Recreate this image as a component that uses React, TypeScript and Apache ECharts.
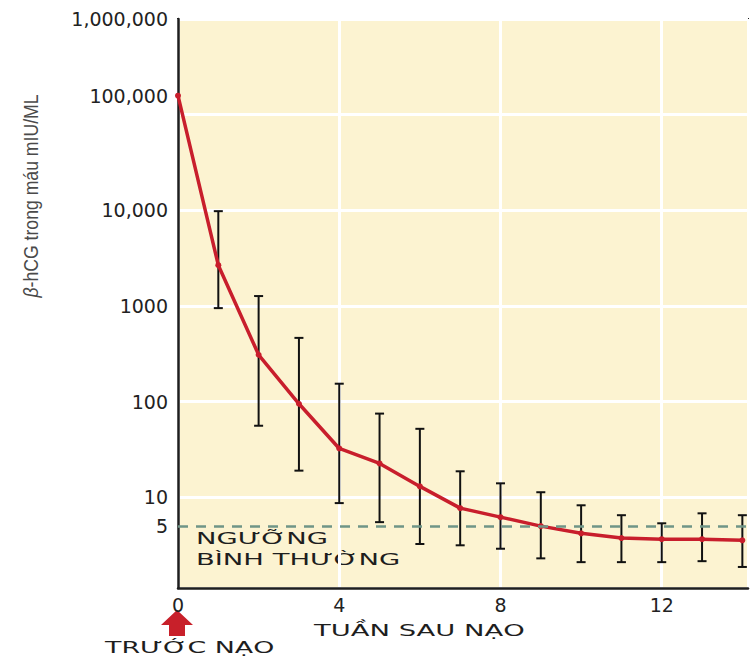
import React, { useEffect, useRef } from 'react';
import * as echarts from 'echarts';

// ---- data ----
const weeks = [0, 1, 2, 3, 4, 5, 6, 7, 8, 9, 10, 11, 12, 13, 14];
const hcgMean = [158000, 2670, 309, 95, 32.4, 22.6, 13, 7.7, 6.2, 5.0, 4.2, 3.75, 3.65, 3.65, 3.55];
const errHigh = [null, 9800, 1270, 464, 154, 75, 52, 18.7, 14, 11.3, 8.25, 6.5, 5.35, 6.8, 6.5];
const errLow = [null, 950, 56, 19, 8.7, 5.5, 3.25, 3.15, 2.9, 2.3, 2.1, 2.1, 2.1, 2.15, 1.87];
const xTickValues = [0, 4, 8, 12];
const yTickValues = [10, 100, 1000, 10000, 100000, 1000000];
const yTickTexts = ['10', '100', '1000', '10,000', '100,000', '1,000,000'];
const thresholdValue = 5;
const thresholdLabel = '5';

const yAxisTitle = '{b|β}-hCG trong máu mIU/ML';
const xAxisTitle = 'TUẦN SAU NẠO';
const thresholdText1 = 'NGƯỠNG';
const thresholdText2 = 'BÌNH THƯỜNG';
const beforeText = 'TRƯỚC NẠO';

const RED = '#c81e2c';
const INK = '#1e1e1e';
const NUM_FONT = 'DejaVu Sans';

export default function App() {
  const ref = useRef<HTMLDivElement>(null);

  useEffect(() => {
    document.body.style.margin = '0';
    const chart = echarts.init(ref.current!, null, { renderer: 'svg' });

    const errData = weeks
      .map((w, i) => [w, errLow[i], errHigh[i]])
      .filter((d) => d[1] != null && d[2] != null);

    const annFont = { fontFamily: NUM_FONT, fontSize: 16.5, fill: '#1e1e1e' };
    const stretch = 1.66;

    chart.setOption({
      animation: false,
      backgroundColor: '#ffffff',
      grid: {
        left: 178,
        top: 17,
        right: -4,
        bottom: 69,
        show: true,
        backgroundColor: '#fcf3d1',
        borderColor: INK,
        borderWidth: 2,
      },
      xAxis: {
        type: 'value',
        min: 0,
        max: 14.14,
        interval: 4,
        axisLine: { show: true, onZero: false, lineStyle: { color: INK, width: 2.5 } },
        axisTick: { show: false },
        splitLine: { show: true, lineStyle: { color: '#ffffff', width: 3 } },
        axisLabel: {
          fontFamily: NUM_FONT,
          fontSize: 19,
          color: '#222',
          margin: 7,
          formatter: (v: number) => (xTickValues.includes(v) ? String(v) : ''),
        },
      },
      yAxis: {
        type: 'log',
        logBase: 10,
        min: 1.127,
        max: 1000000,
        axisLine: { show: true, lineStyle: { color: INK, width: 2.5 } },
        axisTick: { show: false },
        splitLine: { show: true, lineStyle: { color: '#ffffff', width: 3 } },
        axisLabel: {
          fontFamily: NUM_FONT,
          fontSize: 19,
          color: '#222',
          margin: 10,
          lineHeight: 38,
          formatter: (v: number) => {
            const i = yTickValues.findIndex((t) => Math.abs(Math.log10(v) - Math.log10(t)) < 0.01);
            if (i < 0) return '';
            // the reference draws the 100,000 label above its grid line
            return yTickValues[i] === 100000 ? yTickTexts[i] + '\n\u00a0' : yTickTexts[i];
          },
        },
      },
      series: [
        {
          type: 'line',
          data: [],
          z: 1,
          markLine: {
            silent: true,
            symbol: ['none', 'none'],
            data: [{ yAxis: thresholdValue }],
            lineStyle: { type: [10, 8], color: '#6f9587', width: 2.5 },
            label: {
              show: true,
              position: 'start',
              formatter: thresholdLabel,
              fontFamily: NUM_FONT,
              fontSize: 19,
              color: '#222',
              distance: 10,
            },
          },
        },
        {
          type: 'custom',
          z: 2,
          clip: false,
          data: errData,
          encode: { x: 0, y: [1, 2] },
          renderItem: (params: any, api: any) => {
            const x = api.value(0);
            const lo = api.coord([x, api.value(1)]);
            const hi = api.coord([x, api.value(2)]);
            const w = 4.5;
            const style = { stroke: '#111', lineWidth: 2 };
            return {
              type: 'group',
              children: [
                { type: 'line', shape: { x1: lo[0], y1: lo[1], x2: hi[0], y2: hi[1] }, style },
                { type: 'line', shape: { x1: lo[0] - w, y1: lo[1], x2: lo[0] + w, y2: lo[1] }, style },
                { type: 'line', shape: { x1: hi[0] - w, y1: hi[1], x2: hi[0] + w, y2: hi[1] }, style },
              ],
            };
          },
        },
        {
          type: 'line',
          z: 3,
          data: weeks.map((w, i) => [w, hcgMean[i]]),
          symbol: 'circle',
          symbolSize: 6,
          lineStyle: { color: RED, width: 3.5 },
          itemStyle: { color: RED },
        },
      ],
      graphic: [
        {
          type: 'text',
          x: 30,
          y: 196,
          rotation: Math.PI / 2,
          scaleX: 0.84,
          style: {
            text: yAxisTitle,
            fontFamily: 'Liberation Sans',
            fontSize: 21,
            fill: '#4a4a4a',
            textAlign: 'center',
            textVerticalAlign: 'middle',
            rich: { b: { fontStyle: 'italic', fontFamily: 'Liberation Sans', fontSize: 21, fill: '#4a4a4a' } },
          },
        },
        {
          type: 'text',
          x: 196,
          y: 538,
          scaleX: stretch,
          style: { text: thresholdText1, ...annFont, textAlign: 'left', textVerticalAlign: 'middle' },
        },
        {
          type: 'text',
          x: 196,
          y: 559,
          scaleX: stretch,
          style: { text: thresholdText2, ...annFont, textAlign: 'left', textVerticalAlign: 'middle' },
        },
        {
          type: 'text',
          x: 314,
          y: 630,
          scaleX: stretch,
          style: { text: xAxisTitle, ...annFont, textAlign: 'left', textVerticalAlign: 'middle' },
        },
        {
          type: 'text',
          x: 105,
          y: 647,
          scaleX: stretch * 0.98,
          style: { text: beforeText, ...annFont, textAlign: 'left', textVerticalAlign: 'middle' },
        },
        {
          type: 'polygon',
          shape: {
            points: [
              [177, 610],
              [161, 625],
              [169, 625],
              [169, 636],
              [185, 636],
              [185, 625],
              [193, 625],
            ],
          },
          style: { fill: '#c8202a' },
        },
      ],
    });

    return () => chart.dispose();
  }, []);

  return (
    <div
      ref={ref}
      style={{ position: 'fixed', left: 0, top: 0, width: 751, height: 657 }}
    />
  );
}
